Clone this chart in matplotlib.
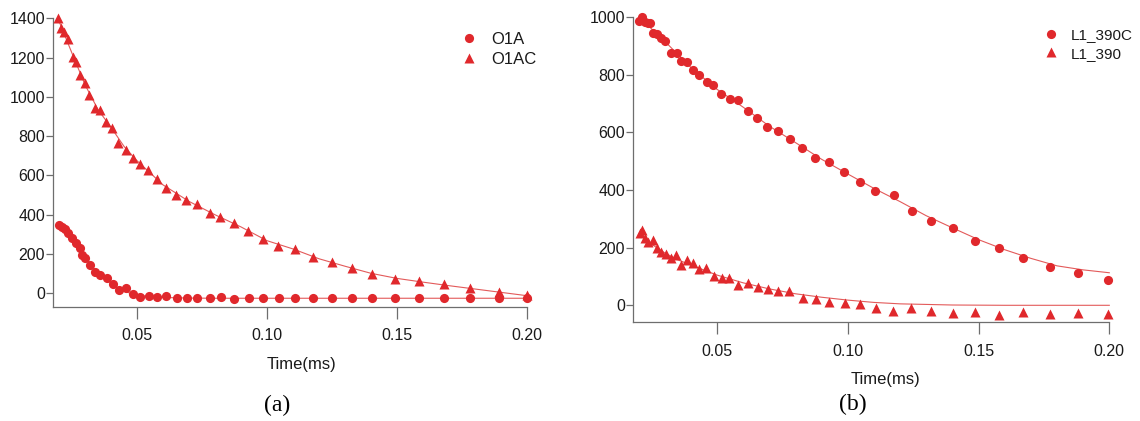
"""Two decay panels (a) and (b): measured points with fitted curves."""
import matplotlib
matplotlib.use("Agg")
import matplotlib.pyplot as plt

FONT = "Liberation Sans"
SERIF = "Liberation Serif"
C_MARK = "#E0282C"
C_LINE = "#E35A5A"
C_AXIS = "#6E6E6E"

# ── Panel (a) data ────────────────────────────────────────────────────────────
o1a_t = [0.0201, 0.0210, 0.0223, 0.0236, 0.0249, 0.0266, 0.0281, 0.0288, 0.0300,
         0.0320, 0.0339, 0.0358, 0.0384, 0.0406, 0.0429, 0.0458, 0.0485, 0.0513,
         0.0545, 0.0578, 0.0612, 0.0652, 0.0691, 0.0732, 0.0780, 0.0822, 0.0874,
         0.0929, 0.0986, 0.1045, 0.1108, 0.1177, 0.1250, 0.1325, 0.1405, 0.1492,
         0.1583, 0.1679, 0.1782, 0.1892, 0.2000]
o1a_y = [348, 339, 326, 305, 280, 254, 229, 195, 178, 144, 110, 93, 76, 47, 17,
         25, -3, -17, -12, -17, -14, -22, -22, -22, -22, -17, -27, -22, -25, -25,
         -25, -26, -24, -26, -26, -25, -26, -25, -25, -26, -26]

o1ac_t = [0.0197, 0.0208, 0.0221, 0.0236, 0.0253, 0.0266, 0.0281, 0.0300, 0.0317,
          0.0339, 0.0357, 0.0381, 0.0403, 0.0428, 0.0457, 0.0484, 0.0512, 0.0544,
          0.0576, 0.0611, 0.0651, 0.0690, 0.0731, 0.0779, 0.0821, 0.0873, 0.0928,
          0.0985, 0.1044, 0.1107, 0.1177, 0.1250, 0.1325, 0.1405, 0.1492, 0.1583,
          0.1679, 0.1782, 0.1892, 0.2000]
o1ac_y = [1400, 1349, 1329, 1293, 1201, 1179, 1111, 1069, 1009, 942, 933, 873, 840,
          763, 729, 687, 658, 627, 582, 534, 500, 475, 455, 407, 390, 359, 319, 275,
          241, 224, 186, 161, 130, 100, 74, 64, 46, 25, 5, -9]

o1a_fit_t = [0.0201, 0.0225, 0.025, 0.0275, 0.03, 0.0325, 0.035, 0.0375, 0.04,
             0.0425, 0.045, 0.0475, 0.05, 0.055, 0.06, 0.07, 0.08, 0.10, 0.13,
             0.16, 0.20]
o1a_fit_y = [348, 322, 280, 238, 182, 140, 104, 78, 52, 30, 12, 0, -8, -17, -21,
             -24, -25, -25, -25, -25, -25]

o1ac_fit_t = [0.0197, 0.025, 0.03, 0.035, 0.04, 0.045, 0.05, 0.06, 0.07, 0.08,
              0.09, 0.10, 0.11, 0.12, 0.13, 0.14, 0.15, 0.16, 0.17, 0.18, 0.19, 0.20]
o1ac_fit_y = [1395, 1222, 1062, 935, 845, 748, 675, 552, 468, 400, 338, 268, 226,
              176, 138, 102, 76, 57, 39, 22, 5, -12]

# ── Panel (b) data ────────────────────────────────────────────────────────────
l1c_t = [0.0203, 0.0213, 0.0226, 0.0237, 0.0244, 0.0256, 0.0272, 0.0285, 0.0301,
         0.0323, 0.0346, 0.0362, 0.0384, 0.0409, 0.0432, 0.0460, 0.0485, 0.0516,
         0.0548, 0.0581, 0.0617, 0.0653, 0.0693, 0.0733, 0.0778, 0.0825, 0.0876,
         0.0928, 0.0985, 0.1045, 0.1106, 0.1175, 0.1245, 0.1320, 0.1403, 0.1487,
         0.1577, 0.1671, 0.1773, 0.1881, 0.1996]
l1c_y = [988, 1002, 985, 979, 981, 944, 942, 927, 919, 875, 875, 849, 846, 817, 800,
         776, 765, 733, 716, 713, 675, 649, 618, 605, 576, 545, 513, 499, 464, 429,
         398, 383, 328, 294, 269, 222, 200, 165, 134, 113, 89]

l1_t = [0.0204, 0.0213, 0.0226, 0.0237, 0.0254, 0.0270, 0.0286, 0.0305, 0.0323,
        0.0344, 0.0363, 0.0385, 0.0408, 0.0432, 0.0459, 0.0487, 0.0518, 0.0547,
        0.0581, 0.0617, 0.0655, 0.0695, 0.0735, 0.0777, 0.0827, 0.0878, 0.0930,
        0.0988, 0.1047, 0.1108, 0.1172, 0.1243, 0.1317, 0.1401, 0.1487, 0.1577,
        0.1669, 0.1773, 0.1881, 0.1996]
l1_y = [250, 261, 233, 221, 227, 198, 184, 177, 163, 175, 140, 157, 146, 125, 131,
        102, 96, 94, 70, 76, 65, 56, 51, 51, 26, 22, 13, 7, 3, -10, -20, -10, -20,
        -26, -22, -34, -22, -31, -28, -31]

l1c_fit_t = [0.0203, 0.03, 0.04, 0.05, 0.06, 0.07, 0.08, 0.09, 0.10, 0.11, 0.12,
             0.13, 0.14, 0.15, 0.16, 0.17, 0.18, 0.19, 0.20]
l1c_fit_y = [1000, 917, 826, 750, 688, 622, 565, 507, 456, 406, 360, 311, 269, 228,
             193, 163, 137, 123, 113]

l1_fit_t = [0.0204, 0.025, 0.03, 0.035, 0.04, 0.05, 0.06, 0.07, 0.08, 0.09, 0.10,
            0.11, 0.12, 0.14, 0.16, 0.20]
l1_fit_y = [250, 212, 182, 158, 140, 105, 78, 57, 40, 28, 18, 10, 5, 1, 0, 0]

X_TICKS = [0.05, 0.10, 0.15, 0.20]


def _style(ax, yticks):
    for side in ("top", "right"):
        ax.spines[side].set_visible(False)
    for side in ("left", "bottom"):
        ax.spines[side].set_color(C_AXIS)
        ax.spines[side].set_linewidth(0.9)
    ax.set_xticks(X_TICKS)
    ax.set_xticklabels([f"{v:.2f}" for v in X_TICKS])
    ax.set_yticks(yticks)
    ax.tick_params(axis="x", length=8.5, width=0.9, color=C_AXIS, pad=7,
                   labelsize=11.5)
    ax.tick_params(axis="y", length=5, width=0.9, color=C_AXIS, pad=1,
                   labelsize=11.5)
    for lab in ax.get_xticklabels() + ax.get_yticklabels():
        lab.set_fontfamily(FONT)
        lab.set_color("#1A1A1A")
    ax.set_xlabel("Time(ms)", fontsize=12, fontfamily=FONT, color="#1A1A1A")


def _panel(ax, pts, fits, legend_xy, legend_size):
    handles = []
    for (t, y, marker, ms, label) in pts:
        h, = ax.plot(t, y, linestyle="none", marker=marker, ms=ms, color=C_MARK,
                     mec="none", clip_on=False, zorder=3, label=label)
        handles.append(h)
    for (t, y) in fits:
        ax.plot(t, y, color=C_LINE, lw=0.8, zorder=2, clip_on=False)
    leg = ax.legend(handles=handles, loc="upper left", frameon=False,
                    bbox_to_anchor=legend_xy, bbox_transform=ax.figure.transFigure,
                    borderpad=0, borderaxespad=0, handlelength=1.0,
                    handletextpad=0.8, labelspacing=0.3,
                    prop={"family": FONT, "size": legend_size})
    for txt in leg.get_texts():
        txt.set_color("#1A1A1A")


def main() -> None:
    W, H = 1140, 421
    fig = plt.figure(figsize=(W / 100, H / 100), dpi=100)
    fig.patch.set_facecolor("white")

    # panel (a): axes box in pixels
    ax_a = fig.add_axes([53.3 / W, 1 - 306.7 / H, 473.7 / W, 288.4 / H])
    ax_a.set_xlim(0.0178, 0.2)
    ax_a.set_ylim(-68, 1400)
    _panel(ax_a,
           [(o1a_t, o1a_y, "o", 6.6, "O1A"),
            (o1ac_t, o1ac_y, "^", 7.0, "O1AC")],
           [(o1a_fit_t, o1a_fit_y), (o1ac_fit_t, o1ac_fit_y)],
           (461 / W, 1 - 32 / H), 12)
    _style(ax_a, [0, 200, 400, 600, 800, 1000, 1200, 1400])
    ax_a.xaxis.set_label_coords(0.525, -0.175)

    # panel (b)
    ax_b = fig.add_axes([633.3 / W, 1 - 322 / H, 476 / W, 304.7 / H])
    ax_b.set_xlim(0.018, 0.2)
    ax_b.set_ylim(-58, 1000)
    _panel(ax_b,
           [(l1c_t, l1c_y, "o", 6.6, "L1_390C"),
            (l1_t, l1_y, "^", 7.0, "L1_390")],
           [(l1c_fit_t, l1c_fit_y), (l1_fit_t, l1_fit_y)],
           (1043 / W, 1 - 28 / H), 11)
    _style(ax_b, [0, 200, 400, 600, 800, 1000])
    ax_b.xaxis.set_label_coords(0.529, -0.165)

    fig.text(277 / W, 1 - 405 / H, "(a)", ha="center", va="center",
             fontsize=17, fontfamily=SERIF, color="black")
    fig.text(853 / W, 1 - 404 / H, "(b)", ha="center", va="center",
             fontsize=17, fontfamily=SERIF, color="black")

    fig.savefig("out.png", dpi=100)


if __name__ == "__main__":
    main()
